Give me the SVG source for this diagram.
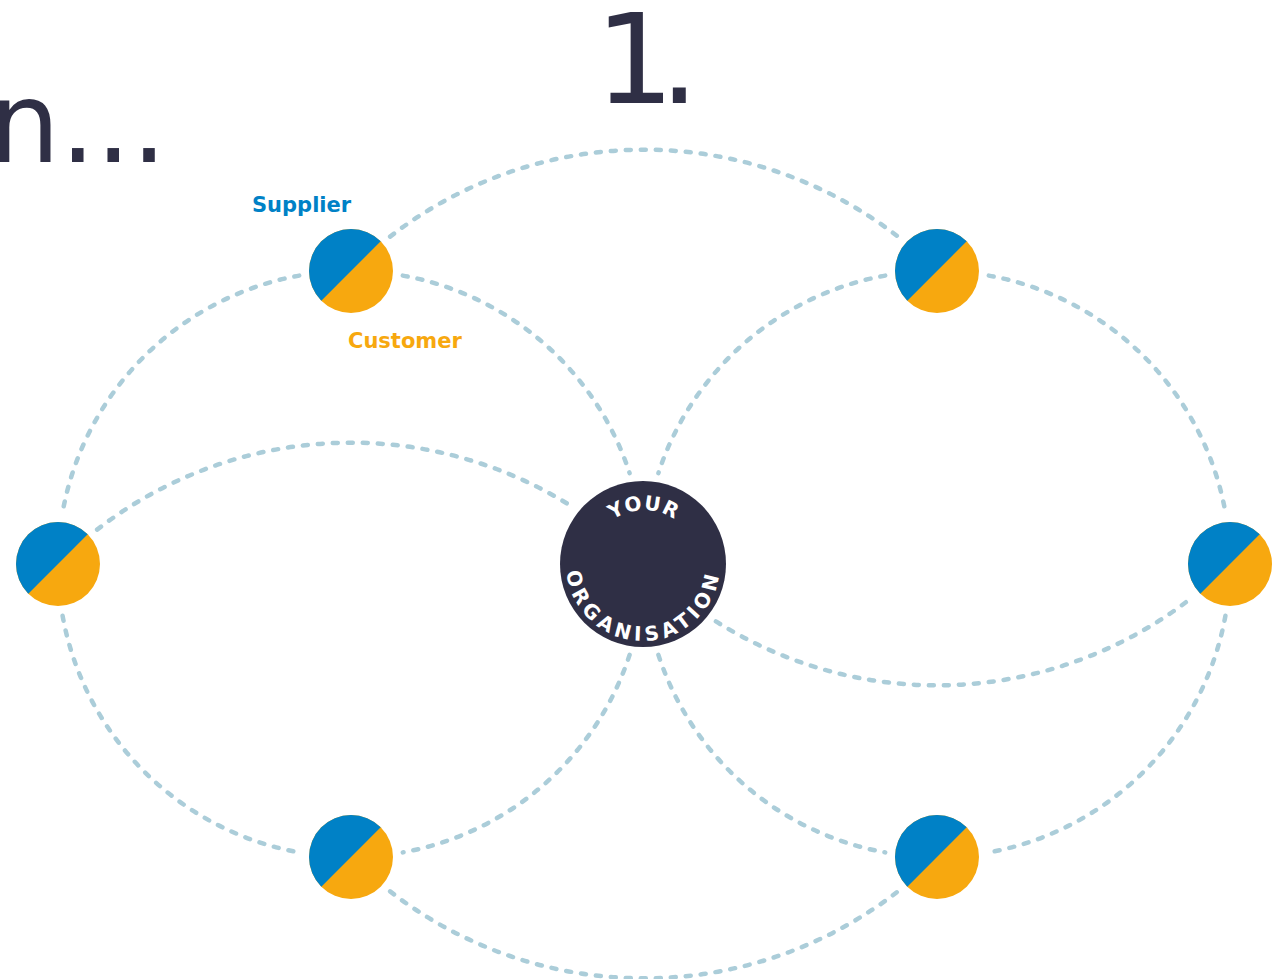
<svg xmlns="http://www.w3.org/2000/svg" width="1280" height="979" viewBox="0 0 1280 979">
<style>
.arc{fill:none;stroke:#abcdd9;stroke-width:4.5;stroke-linecap:round;stroke-dasharray:5 10}
.blue{fill:#0081c6}
.orange{fill:#f7a80f}
.title{font-family:"DejaVu Sans",sans-serif;fill:#2f2f45}
.lbl{font-family:"DejaVu Sans",sans-serif;font-weight:700;font-size:21px}
.org{font-family:"DejaVu Sans",sans-serif;font-weight:700;font-size:20px;fill:#ffffff}
</style>
<defs>
<g id="node">
<circle r="42" class="orange"/>
<path d="M29.7,-29.7 A42,42 0 0 0 -29.7,29.7 Z" class="blue"/>
</g>
<path id="topPath" d="M590,564 A54,54 0 0 1 698,564"/>
<path id="botPath" d="M566,564 A77,77 0 0 0 720,564"/>
</defs>
<rect width="1280" height="979" fill="#ffffff"/>
<g id="titles">
<text class="title" x="-11" y="162" font-size="112">n...</text>
<text class="title" x="595" y="103" font-size="125" letter-spacing="-15">1.</text>
</g>
<g id="connectors">
<path class="arc" d="M390.1,236.6 A414.36,414.36 0 0 1 897.9,236.6"/>
<path class="arc" d="M390.1,891.4 A414.36,414.36 0 0 0 897.9,891.4"/>
<path class="arc" d="M299.2,275.6 A293,293 0 0 0 62.6,512.2"/>
<path class="arc" d="M62.6,615.8 A293,293 0 0 0 299.2,852.4"/>
<path class="arc" d="M402.8,275.6 A293,293 0 0 1 629.6,473.1"/>
<path class="arc" d="M629.6,654.9 A293,293 0 0 1 402.8,852.4"/>
<path class="arc" d="M988.8,275.6 A293,293 0 0 1 1225.4,512.2"/>
<path class="arc" d="M1225.4,615.8 A293,293 0 0 1 988.8,852.4"/>
<path class="arc" d="M885.2,275.6 A293,293 0 0 0 658.4,473.1"/>
<path class="arc" d="M658.4,654.9 A293,293 0 0 0 885.2,852.4"/>
<path class="arc" d="M97.1,529.6 A414.36,414.36 0 0 1 572.1,506.6"/>
<path class="arc" d="M715.9,621.4 A414.36,414.36 0 0 0 1190.9,598.4"/>
</g>
<g id="node-tl"><use href="#node" x="351" y="271"/></g>
<g id="node-tr"><use href="#node" x="937" y="271"/></g>
<g id="node-l"><use href="#node" x="58" y="564"/></g>
<g id="node-r"><use href="#node" x="1230" y="564"/></g>
<g id="node-bl"><use href="#node" x="351" y="857"/></g>
<g id="node-br"><use href="#node" x="937" y="857"/></g>
<g id="center">
<circle cx="643" cy="564" r="83" fill="#2f2f45"/>
<text class="org" letter-spacing="1"><textPath href="#topPath" startOffset="50%" text-anchor="middle">YOUR</textPath></text>
<text class="org" letter-spacing="4.5"><textPath href="#botPath" startOffset="50%" text-anchor="middle">ORGANISATION</textPath></text>
</g>
<g id="labels">
<text class="lbl" x="252" y="212" fill="#0081c6">Supplier</text>
<text class="lbl" x="348" y="348" fill="#f7a80f">Customer</text>
</g>
</svg>
